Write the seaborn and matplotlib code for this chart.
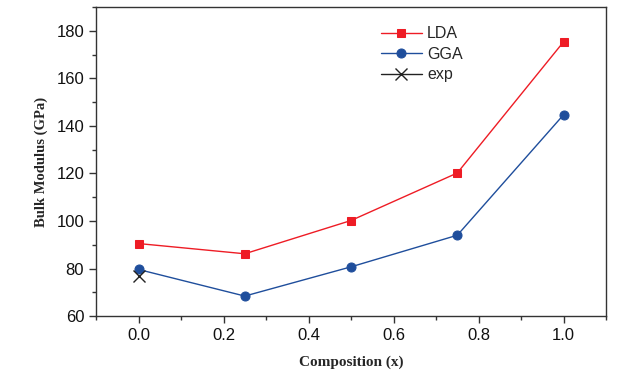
import pandas as pd
import seaborn as sns
import matplotlib.pyplot as plt
from matplotlib.ticker import MultipleLocator

# Bulk modulus vs composition

composition = [0.0, 0.25, 0.5, 0.75, 1.0]
lda = [90.5, 86.2, 100.2, 120.2, 175.4]
gga = [79.6, 68.4, 80.7, 94.0, 144.7]
exp_x = [0.0]
exp_y = [76.8]

df_lda = pd.DataFrame({"x": composition, "B": lda})
df_gga = pd.DataFrame({"x": composition, "B": gga})
df_exp = pd.DataFrame({"x": exp_x, "B": exp_y})

sns.set_style("ticks")
plt.rcParams["font.family"] = ["Liberation Sans", "DejaVu Sans"]

fig, ax = plt.subplots(figsize=(6.4, 3.74), dpi=100)

sns.lineplot(data=df_lda, x="x", y="B", ax=ax, color="#ee1c25", marker="s",
             markersize=6, markeredgecolor="#ee1c25", linewidth=1, label="LDA")
sns.lineplot(data=df_gga, x="x", y="B", ax=ax, color="#1f4e9c", marker="o",
             markersize=6.5, markeredgecolor="#1f4e9c", linewidth=1, label="GGA")
sns.lineplot(data=df_exp, x="x", y="B", ax=ax, color="#222222", marker="x",
             markersize=8, markeredgecolor="#222222", markeredgewidth=1,
             linewidth=1, label="exp")

ax.set_xlim(-0.1, 1.1)
ax.set_ylim(60, 190)
ax.xaxis.set_major_locator(MultipleLocator(0.2))
ax.xaxis.set_minor_locator(MultipleLocator(0.1))
ax.yaxis.set_major_locator(MultipleLocator(20))
ax.yaxis.set_minor_locator(MultipleLocator(10))
ax.set_yticks(range(60, 181, 20))
ax.tick_params(which="major", direction="out", length=5, width=1, labelsize=12,
               colors="#333333", labelcolor="#111111")
ax.tick_params(which="minor", direction="out", length=3, width=1, colors="#333333")
for s in ax.spines.values():
    s.set_linewidth(1)
    s.set_color("#333333")

ax.set_xlabel("Composition (x)", fontsize=11, fontweight="bold",
              family="Liberation Serif", labelpad=9)
ax.set_ylabel("Bulk Modulus (GPa)", fontsize=10.5, fontweight="bold",
              family="Liberation Serif", labelpad=6)

leg = ax.legend(loc="upper left", bbox_to_anchor=(0.53, 0.985), frameon=False,
                fontsize=11.5, handlelength=2.6, labelspacing=0.35, handletextpad=0.3)

fig.subplots_adjust(left=0.15, right=0.947, top=0.981, bottom=0.155)
plt.savefig("out.png", dpi=100)
